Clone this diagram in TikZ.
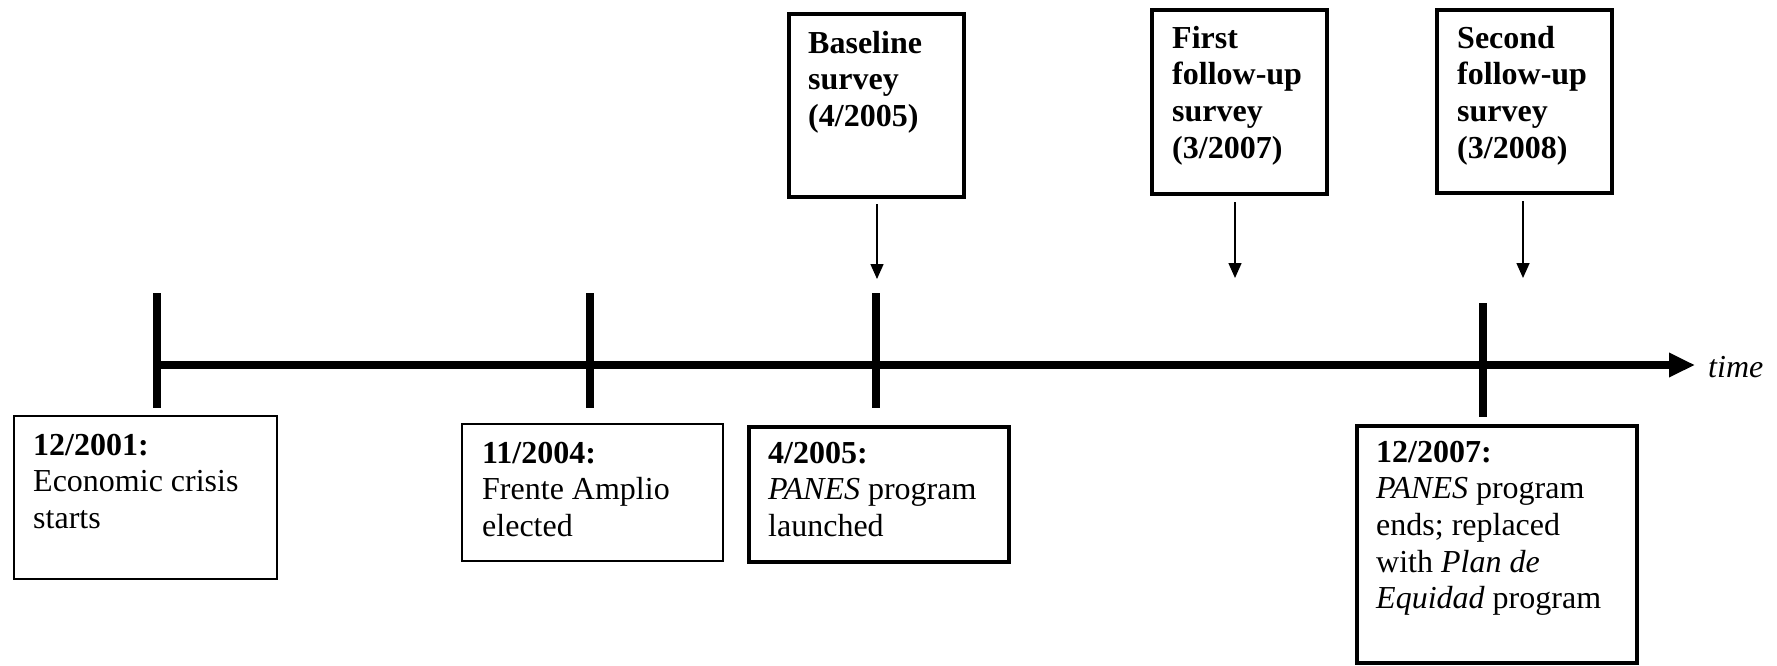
\documentclass[tikz,border=0pt]{standalone}
\usepackage{fontspec}
\setmainfont{Liberation Serif}
\usetikzlibrary{arrows.meta,calc}
\newcommand{\boxtext}[1]{\parbox[t]{400pt}{\raggedright\fontsize{32}{36.7}\selectfont #1}}
\begin{document}
\begin{tikzpicture}[x=1pt,y=-1pt,
  thinbox/.style={draw, line width=1.5pt, inner sep=0pt, anchor=north west},
  thickbox/.style={draw, line width=4pt, inner sep=0pt, anchor=north west},
  txt/.style={inner sep=0pt, anchor=base west},
  tickline/.style={line width=8pt},
  timeline/.style={line width=8pt, -{Triangle[length=26pt,width=23pt]}},
  survarrow/.style={line width=1.5pt, -{Triangle[length=15pt,width=13pt]}}]
\useasboundingbox (0,0) rectangle (1777,665);

% timeline and ticks
\coordinate (start) at (157,365);
\coordinate (tip) at (1695,365);
\draw[timeline] (start) -- (tip);
\node[inner sep=0pt, anchor=base west, font=\fontsize{32}{36.7}\selectfont\itshape] (time) at (1708,377) {time};

\coordinate (t1a) at (157,293); \coordinate (t1b) at (157,408);
\coordinate (t2a) at (590,293); \coordinate (t2b) at (590,408);
\coordinate (t3a) at (876,293); \coordinate (t3b) at (876,408);
\coordinate (t4a) at (1483,303); \coordinate (t4b) at (1483,417);
\draw[tickline] (t1a) -- (t1b);
\draw[tickline] (t2a) -- (t2b);
\draw[tickline] (t3a) -- (t3b);
\draw[tickline] (t4a) -- (t4b);

% event boxes below the line
\node[thinbox, minimum width=263pt, minimum height=163pt] (b1) at (13,415) {};
\node[txt] (b1t) at (33,455) {\boxtext{\textbf{12/2001:}\\Economic crisis\\starts}};

\node[thinbox, minimum width=261pt, minimum height=137pt] (b2) at (461,423) {};
\node[txt] (b2t) at (482,463) {\boxtext{\textbf{11/2004:}\\Frente Amplio\\elected}};

\node[thickbox, minimum width=260pt, minimum height=135pt] (b3) at (747,425) {};
\node[txt] (b3t) at (768,463) {\boxtext{\textbf{4/2005:}\\\textit{PANES} program\\launched}};

\node[thickbox, minimum width=280pt, minimum height=237pt] (b4) at (1355,424) {};
\node[txt] (b4t) at (1376,462) {\boxtext{\textbf{12/2007:}\\\textit{PANES} program\\ends; replaced\\with \textit{Plan de}\\\textit{Equidad} program}};

% survey boxes above the line
\node[thickbox, minimum width=175pt, minimum height=183pt] (s1) at (787,12) {};
\node[txt] (s1t) at (808,53) {\boxtext{\bfseries Baseline\\survey\\(4/2005)}};

\node[thickbox, minimum width=175pt, minimum height=184pt] (s2) at (1150,8) {};
\node[txt] (s2t) at (1172,48) {\boxtext{\bfseries First\\follow-up\\survey\\(3/2007)}};

\node[thickbox, minimum width=175pt, minimum height=183pt] (s3) at (1435,8) {};
\node[txt] (s3t) at (1457,48) {\boxtext{\bfseries Second\\follow-up\\survey\\(3/2008)}};

% survey arrows
\coordinate (a1) at (877,279);
\coordinate (a2) at (1235,278);
\coordinate (a3) at (1523,278);
\draw[survarrow] ([yshift=-5pt]a1 |- s1.south) -- (a1);
\draw[survarrow] ([yshift=-6pt]a2 |- s2.south) -- (a2);
\draw[survarrow] ([yshift=-6pt]a3 |- s3.south) -- (a3);
\end{tikzpicture}
\end{document}
